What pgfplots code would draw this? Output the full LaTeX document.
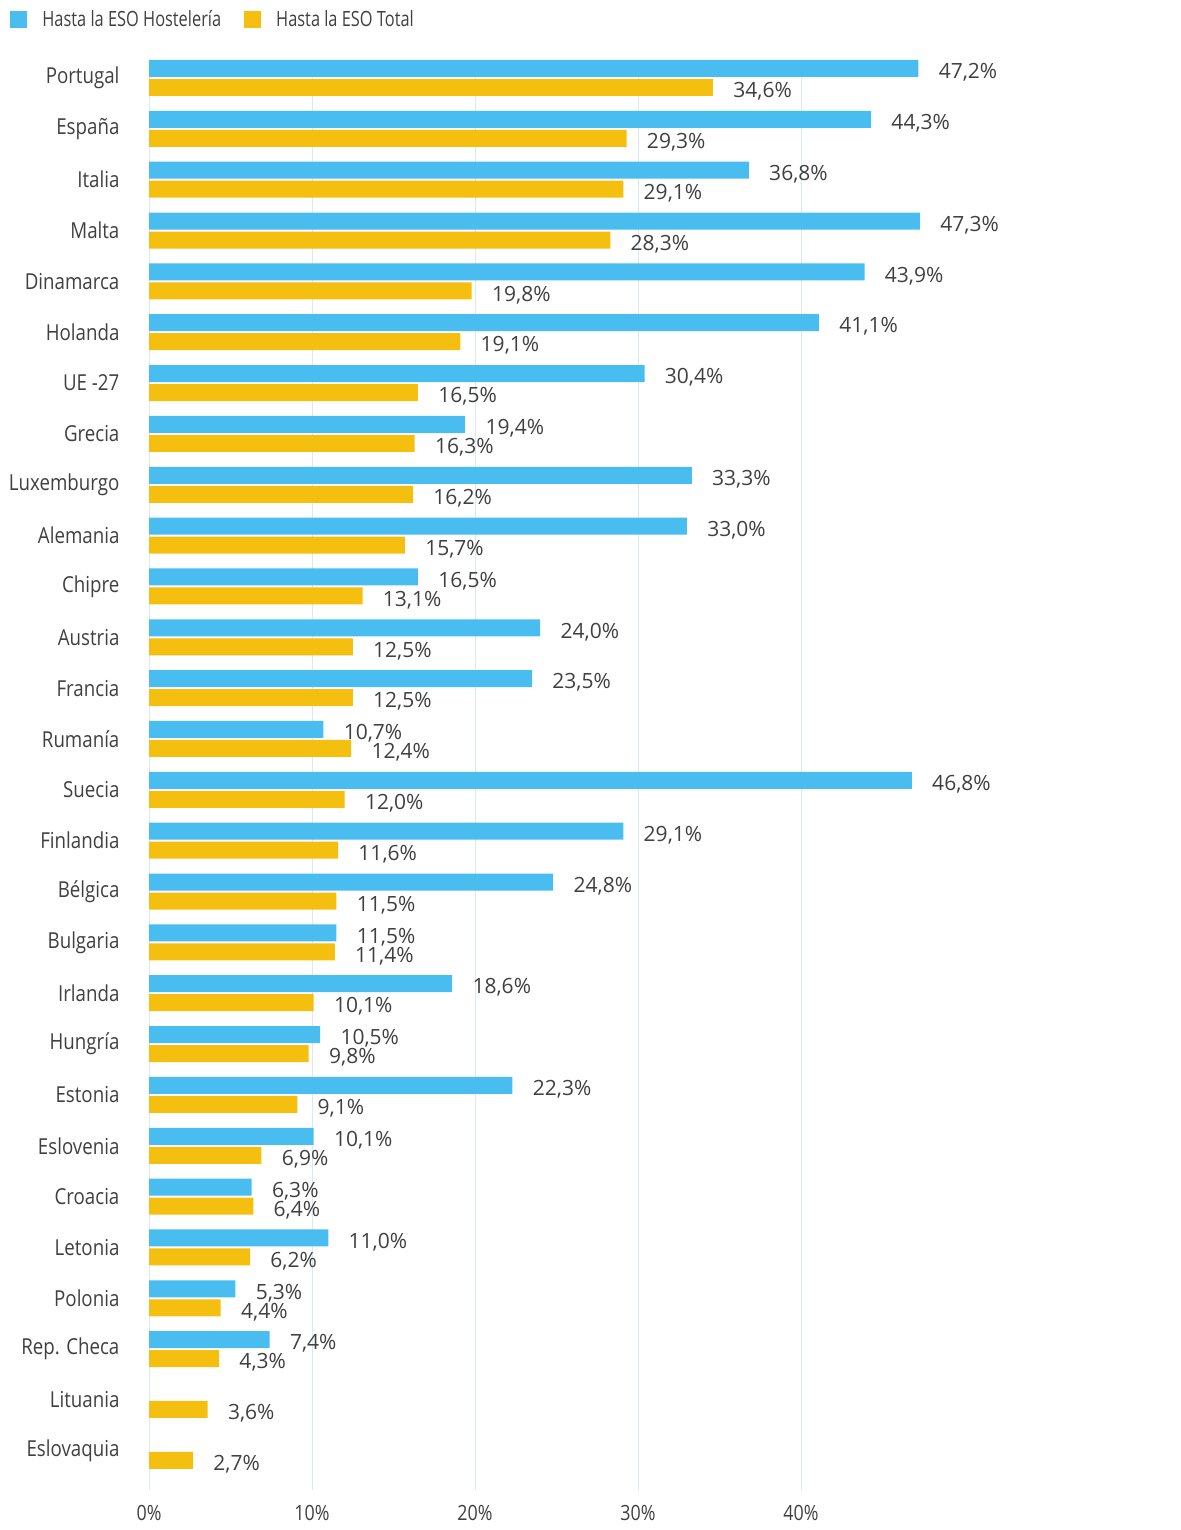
\documentclass[border=0pt]{standalone}
\usepackage{fontspec}
\setmainfont{Open Sans}
\newfontfamily\condfont[FakeStretch=0.85]{Open Sans}
\newfontfamily\legfont[FakeStretch=0.78]{Open Sans}
\usepackage{pgfplots}
\usepackage{pgfplotstable}
\pgfplotsset{compat=1.18}
\definecolor{barblue}{HTML}{4ABDF0}
\definecolor{baryellow}{HTML}{F5BF10}
\definecolor{txt}{HTML}{404040}
\definecolor{gridc}{HTML}{D8EAF7}

\pgfplotstableread{
y val
27 47.2
26 44.3
25 36.8
24 47.3
23 43.9
22 41.1
21 30.4
20 19.4
19 33.3
18 33.0
17 16.5
16 24.0
15 23.5
14 10.7
13 46.8
12 29.1
11 24.8
10 11.5
9 18.6
8 10.5
7 22.3
6 10.1
5 6.3
4 11.0
3 5.3
2 7.4
}\hosteleria

\pgfplotstableread{
y val
27 34.6
26 29.3
25 29.1
24 28.3
23 19.8
22 19.1
21 16.5
20 16.3
19 16.2
18 15.7
17 13.1
16 12.5
15 12.5
14 12.4
13 12.0
12 11.6
11 11.5
10 11.4
9 10.1
8 9.8
7 9.1
6 6.9
5 6.4
4 6.2
3 4.4
2 4.3
1 3.6
0 2.7
}\total

\begin{document}
\begin{tikzpicture}
\path[use as bounding box] (0,0) rectangle (590pt,765pt);
\begin{axis}[
 at={(74.5pt,20pt)}, anchor=south west,
 scale only axis, width=407.5pt, height=715pt,
 xmin=0, xmax=50, ymin=-0.77, ymax=27.354,
 xbar, bar width=8.5pt,
 axis line style={draw=none},
 xtick={0,10,20,30,40}, xticklabels={0\%,10\%,20\%,30\%,40\%},
 xmajorgrids, major grid style={gridc, line width=0.5pt},
 ytick={0,...,27},
 yticklabels={Eslovaquia,Lituania,Rep. Checa,Polonia,Letonia,Croacia,Eslovenia,Estonia,Hungría,Irlanda,Bulgaria,Bélgica,Finlandia,Suecia,Rumanía,Francia,Austria,Chipre,Alemania,Luxemburgo,Grecia,UE -27,Holanda,Dinamarca,Malta,Italia,España,Portugal},
 tick style={draw=none},
 yticklabel style={font=\condfont\fontsize{11}{13}\selectfont, text=txt, xshift=-7pt},
 xticklabel style={font=\condfont\fontsize{10.5}{12}\selectfont, text=txt, yshift=-4pt},
 point meta=x,
 nodes near coords={\pgfmathprintnumber[fixed,fixed zerofill,precision=1,use comma,assume math mode=true]{\pgfplotspointmeta}\%},
 nodes near coords style={font=\fontsize{10.5}{12}\selectfont, text=txt, anchor=west, inner sep=0pt, xshift=10pt, yshift=-2pt},
 legend columns=2,
 legend image code/.code={\fill[#1] (0pt,-4.25pt) rectangle (8.5pt,4.25pt);},
 legend style={at={(rel axis cs:0,1)}, anchor=west, xshift=-69.5pt, yshift=20pt, draw=none, fill=none, inner sep=0pt,
   font=\legfont\fontsize{10.5}{13}\selectfont, text=txt,
   /tikz/every even column/.append style={column sep=9.5pt},
   /tikz/every odd column/.append style={column sep=5.5pt}},
 legend cell align=left,
]
\addplot[fill=barblue, draw=none, bar shift=4.75pt] table[x=val,y=y]{\hosteleria};
\addlegendentry{Hasta la ESO Hostelería}
\addplot[fill=baryellow, draw=none, bar shift=-4.75pt] table[x=val,y=y]{\total};
\addlegendentry{Hasta la ESO Total}
\end{axis}
\end{tikzpicture}
\end{document}
